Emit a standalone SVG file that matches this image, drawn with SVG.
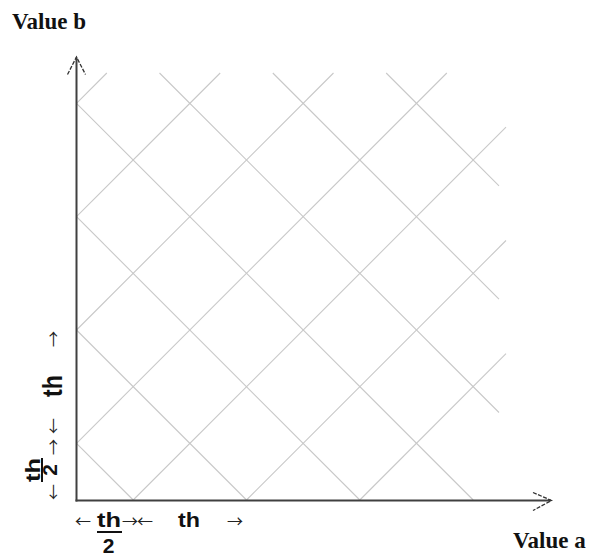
<svg xmlns="http://www.w3.org/2000/svg" width="597" height="559" viewBox="0 0 597 559">
<style>
.grid line{stroke:#c8c8c8;stroke-width:1.1;fill:none}
.axis{stroke:#404040;stroke-width:2;fill:none}
.head{stroke:#303030;stroke-width:1.3;fill:none;stroke-dasharray:4 1.5}
.title{font-family:"Liberation Serif",serif;font-weight:bold;font-size:23px;fill:#111}
.lbl{font-family:"Liberation Sans",Arial,sans-serif;font-weight:bold;font-size:21px;fill:#111}
.arr{font-family:"Noto Sans CJK SC",sans-serif;font-size:16px;fill:#222}
.bar{stroke:#111;stroke-width:2}
</style>
<rect width="597" height="559" fill="#fff"/>
<g id="grid" class="grid">
<line x1="76.5" y1="443.3" x2="133.2" y2="500"/>
<line x1="76.5" y1="330" x2="246.5" y2="500"/>
<line x1="76.5" y1="216.7" x2="359.8" y2="500"/>
<line x1="76.5" y1="103.3" x2="473.2" y2="500"/>
<line x1="159.5" y1="73" x2="499" y2="412.5"/>
<line x1="272.8" y1="73" x2="499" y2="299.2"/>
<line x1="386.2" y1="73" x2="499" y2="185.8"/>
<line x1="133.2" y1="500" x2="506" y2="127.2"/>
<line x1="246.5" y1="500" x2="506" y2="240.5"/>
<line x1="359.8" y1="500" x2="506" y2="353.7"/>
<line x1="76.5" y1="443.3" x2="446.8" y2="73"/>
<line x1="76.5" y1="330" x2="333.5" y2="73"/>
<line x1="76.5" y1="216.7" x2="220.2" y2="73"/>
<line x1="76.5" y1="103.3" x2="106.8" y2="73"/>
</g>
<g id="axes">
<g id="axis-b">
<line class="axis" x1="76.5" y1="501.5" x2="76.5" y2="57.5"/>
<path class="head" d="M67.5,74.5 L76.5,57 L85.5,74.5"/>
</g>
<g id="axis-a">
<line class="axis" x1="75.5" y1="500.5" x2="551" y2="500.5"/>
<path class="head" d="M533,492.5 L551.5,500.5 L533,510.5"/>
</g>
</g>
<g id="label-b"><text class="title" x="12" y="29">Value b</text></g>
<g id="label-a"><text class="title" x="513" y="548">Value a</text></g>
<g id="dims-a">
<text class="arr" x="83" y="526.5" text-anchor="middle">←</text>
<text class="lbl" x="109" y="527" text-anchor="middle" textLength="24" lengthAdjust="spacingAndGlyphs">th</text>
<line class="bar" x1="97" y1="532" x2="122" y2="532"/>
<text class="lbl" x="108.5" y="553" text-anchor="middle">2</text>
<text class="arr" x="130" y="526.5" text-anchor="middle">→</text>
<text class="arr" x="145" y="526.5" text-anchor="middle">←</text>
<text class="lbl" x="189" y="527" text-anchor="middle" textLength="22" lengthAdjust="spacingAndGlyphs">th</text>
<text class="arr" x="235" y="526.5" text-anchor="middle">→</text>
</g>
<g id="dims-b" transform="translate(76.5,500.5) rotate(-90)">
<text class="arr" x="8.5" y="-17.8" text-anchor="middle">←</text>
<text class="lbl" x="30.5" y="-37" text-anchor="middle" textLength="24" lengthAdjust="spacingAndGlyphs">th</text>
<line class="bar" x1="18.5" y1="-34.5" x2="42.5" y2="-34.5"/>
<text class="lbl" x="30.5" y="-20" text-anchor="middle">2</text>
<text class="arr" x="53.5" y="-17.8" text-anchor="middle">→</text>
<text class="arr" x="74.5" y="-17.8" text-anchor="middle">←</text>
<text class="lbl" x="114.5" y="-14.5" text-anchor="middle" textLength="22" lengthAdjust="spacingAndGlyphs" style="font-size:27px">th</text>
<text class="arr" x="161.5" y="-17.8" text-anchor="middle">→</text>
</g>
</svg>
